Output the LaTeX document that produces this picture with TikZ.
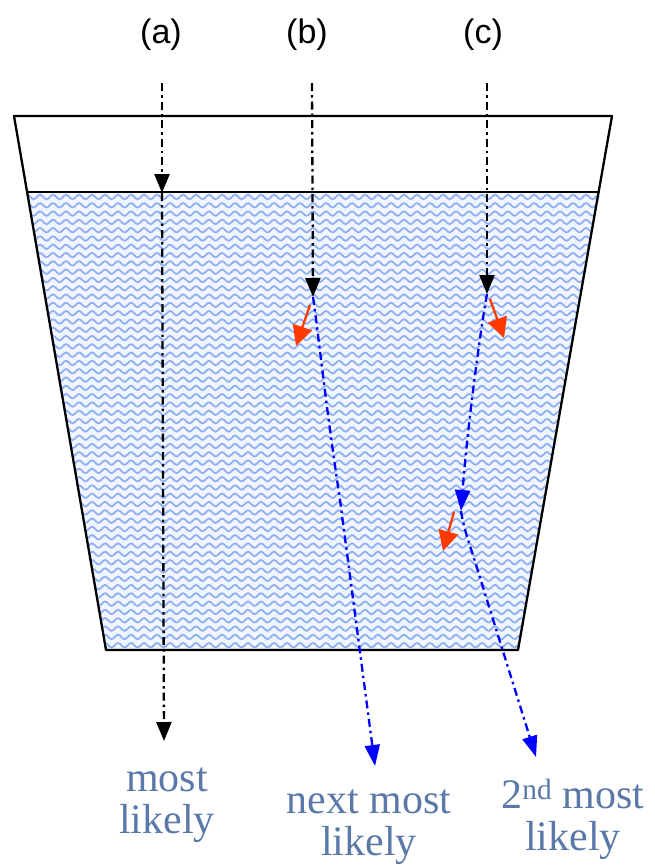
\documentclass[tikz,border=0pt]{standalone}
\usepackage{fontspec}
\setmainfont{Liberation Serif}
\newfontfamily\labelsans{Liberation Sans}
\usetikzlibrary{arrows.meta,decorations.pathmorphing}

\definecolor{waterbg}{HTML}{F0F5FE}
\definecolor{wave}{HTML}{8FB1F4}
\definecolor{reflect}{HTML}{FF3A00}
\definecolor{caption}{HTML}{5A78A8}

\tikzset{
  cup/.style={line width=2.3pt, line join=round},
  ray/.style={line width=2.3pt, dash pattern=on 8pt off 4pt on 2.5pt off 4pt},
  blackray/.style={ray, black, -{Triangle[length=19pt,width=15pt]}},
  blueray/.style={ray, blue, -{Triangle[length=21pt,width=15pt]}},
  redray/.style={line width=2.3pt, reflect, -{Triangle[length=20pt,width=20pt]}},
  casename/.style={font=\labelsans\fontsize{34}{38}\selectfont, inner sep=0pt, anchor=base},
  outcome/.style={font=\fontsize{42}{42}\selectfont, text=caption, align=center, inner sep=0pt, anchor=north},
}

\begin{document}
\begin{tikzpicture}[x=1pt, y=-1pt]
  \useasboundingbox (0,0) rectangle (654,865);

  % glass outline and water surface
  \coordinate (tl) at (14,116);
  \coordinate (tr) at (612,116);
  \coordinate (br) at (518,650);
  \coordinate (bl) at (106,650);
  \coordinate (sl) at (27.1,192);
  \coordinate (sr) at (598.5,192);

  % water body with wavy texture
  \fill[waterbg] (sl) -- (sr) -- (br) -- (bl) -- cycle;
  \begin{scope}
    \clip (sl) -- (sr) -- (br) -- (bl) -- cycle;
    \foreach \i in {0,...,56} {
      \draw[wave, line width=1.8pt, decorate,
            decoration={snake, amplitude=2.2pt, segment length=13pt}]
        (10,{197+\i*8.3}) -- (640,{197+\i*8.3});
    }
  \end{scope}

  \draw[cup] (tl) -- (tr) -- (br) -- (bl) -- cycle;
  \draw[cup] (sl) -- (sr);

  % case labels
  \node[casename] (la) at (161,43) {(a)};
  \node[casename] (lb) at (307,43) {(b)};
  \node[casename] (lc) at (483,43) {(c)};

  % ray (a): straight through
  \coordinate (a0) at (162,83);
  \coordinate (a1) at (162,193);
  \coordinate (a2) at (164,741);
  \draw[blackray] (a0) -- (a1);
  \draw[blackray] (a1) -- (a2);

  % ray (b): one scattering event
  \coordinate (b0) at (312,83);
  \coordinate (b1) at (313,297);
  \coordinate (b2) at (375,766);
  \coordinate (br0) at (310,305);
  \coordinate (br1) at (296,346);
  \draw[blackray] (b0) -- (b1);
  \draw[redray] (br0) -- (br1);
  \draw[blueray] (b1) .. controls (318,330) and (325,400) .. (340,500) -- (b2);

  % ray (c): two scattering events
  \coordinate (c0) at (487,83);
  \coordinate (c1) at (487,294);
  \coordinate (c2) at (461,511);
  \coordinate (c3) at (536,757);
  \coordinate (cr0) at (490,299);
  \coordinate (cr1) at (504,338);
  \coordinate (cs0) at (454,512);
  \coordinate (cs1) at (443,551);
  \draw[blackray] (c0) -- (c1);
  \draw[redray] (cr0) -- (cr1);
  \draw[blueray] (c1) .. controls (482,320) and (468,420) .. (c2);
  \draw[redray] (cs0) -- (cs1);
  \draw[blueray] (c2) .. controls (463,525) and (468,540) .. (472,552) -- (c3);

  % outcome captions
  \node[outcome] (oa) at (167,768) {most\\likely};
  \node[outcome] (ob) at (369,790) {next most\\likely};
  \node[outcome] (oc) at (573,779) {2\textsuperscript{nd} most\\likely};
\end{tikzpicture}
\end{document}
